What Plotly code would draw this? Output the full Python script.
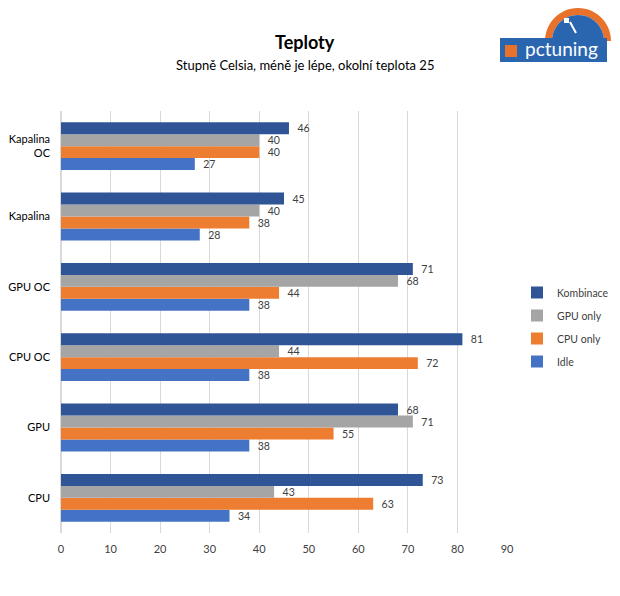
import math
import plotly.graph_objects as go

categories = ["CPU", "GPU", "CPU OC", "GPU OC", "Kapalina", "Kapalina<br>OC"]
idle = [34, 38, 38, 38, 28, 27]
cpu_only = [63, 55, 72, 44, 38, 40]
gpu_only = [43, 71, 44, 68, 40, 40]
kombinace = [73, 68, 81, 71, 45, 46]
x_ticks = [0, 10, 20, 30, 40, 50, 60, 70, 80, 90]

series = [
    ("Idle", idle, "#4472C4", 4),
    ("CPU only", cpu_only, "#ED7D31", 3),
    ("GPU only", gpu_only, "#A5A5A5", 2),
    ("Kombinace", kombinace, "#2F5597", 1),
]

FONT = "Lato, 'Open Sans', sans-serif"
OFF = 8  # page body margin
W, H = 620 - OFF, 596 - OFF
L, T = 61 - OFF, 111 - OFF
PR, PB = 507 - OFF, 533 - OFF
R, B = W - PR, H - PB
PW, PH = PR - L, PB - T


def px(x):
    return (x - OFF - L) / PW


def py(y):
    return (PB - (y - OFF)) / PH


fig = go.Figure()
for name, vals, color, rank in series:
    fig.add_trace(go.Bar(
        y=categories, x=vals, name=name, orientation="h", legendgroup=name,
        legendrank=rank,
        marker=dict(color=color, line=dict(width=0)),
        text=vals, texttemplate="  %{x}", textposition="outside",
        textfont=dict(size=11.5, color="#404040", family=FONT),
        cliponaxis=False,
    ))

shapes = []
# logo: orange gauge ring and blue banner
cx, cy, r_out, r_in = 578, 41, 33, 26
pts_out = [(cx + r_out * math.cos(math.radians(a)), cy - r_out * math.sin(math.radians(a))) for a in range(0, 181, 6)]
pts_in = [(cx + r_in * math.cos(math.radians(a)), cy - r_in * math.sin(math.radians(a))) for a in range(180, -1, -6)]
path = "M " + " L ".join(f"{px(x):.5f},{py(y):.5f}" for x, y in pts_out + pts_in) + " Z"
shapes.append(dict(type="path", xref="paper", yref="paper", path=path,
                   fillcolor="#E8722C", line=dict(width=0), layer="above"))
pts_fill = [(cx + r_in * math.cos(math.radians(a)), cy - r_in * math.sin(math.radians(a))) for a in range(0, 181, 6)]
path2 = "M " + " L ".join(f"{px(x):.5f},{py(y):.5f}" for x, y in pts_fill) + " Z"
shapes.append(dict(type="path", xref="paper", yref="paper", path=path2,
                   fillcolor="#2A66B0", line=dict(width=0), layer="above"))
shapes.append(dict(type="rect", xref="paper", yref="paper",
                   x0=px(500), x1=px(607), y0=py(62), y1=py(38),
                   fillcolor="#2A66B0", line=dict(width=0), layer="above"))
shapes.append(dict(type="rect", xref="paper", yref="paper",
                   x0=px(505), x1=px(517), y0=py(57), y1=py(45),
                   fillcolor="#E8722C", line=dict(width=0), layer="above"))
shapes.append(dict(type="line", xref="paper", yref="paper",
                   x0=px(570), y0=py(22), x1=px(576), y1=py(33),
                   line=dict(color="white", width=2), layer="above"))
shapes.append(dict(type="rect", xref="paper", yref="paper",
                   x0=px(564), x1=px(569), y0=py(23), y1=py(18),
                   fillcolor="white", line=dict(width=0), layer="above"))

annotations = [
    dict(text="<b>Teploty</b>", x=px(305), y=py(42), xref="paper", yref="paper",
         xanchor="center", yanchor="middle",
         showarrow=False, font=dict(size=18, color="#000000", family=FONT)),
    dict(text="Stupně Celsia, méně je lépe, okolní teplota 25", x=px(305), y=py(65),
         xref="paper", yref="paper", xanchor="center", yanchor="middle", showarrow=False,
         font=dict(size=13, color="#000000", family=FONT)),
    dict(text="pctuning", x=px(561), y=py(49), xref="paper", yref="paper",
         xanchor="center", yanchor="middle",
         showarrow=False, font=dict(size=19, color="white", family=FONT)),
]

fig.update_layout(
    width=W, height=H,
    margin=dict(l=L, r=R, t=T, b=B, pad=0, autoexpand=False),
    paper_bgcolor="white", plot_bgcolor="white",
    barmode="group", bargap=0.32, bargroupgap=0,
    font=dict(family=FONT, size=11, color="#404040"),
    showlegend=True,
    legend=dict(x=px(517), y=py(327), xanchor="left", yanchor="middle",
                traceorder="grouped", font=dict(size=10.5, color="#404040", family=FONT),
                itemwidth=30, tracegroupgap=4, bgcolor="rgba(0,0,0,0)"),
    xaxis=dict(range=[0, 90], tickvals=x_ticks, showgrid=True, gridcolor="#D9D9D9",
               gridwidth=1, zeroline=True, zerolinecolor="#D9D9D9", showline=False,
               ticks="", ticklabelstandoff=8,
               tickfont=dict(size=11, color="#404040", family=FONT)),
    yaxis=dict(showgrid=False, zeroline=False, showline=False, ticks="",
               ticklabelstandoff=10, tickfont=dict(size=11, color="#000000", family=FONT)),
    shapes=shapes, annotations=annotations,
)

fig.write_html("out.html")
